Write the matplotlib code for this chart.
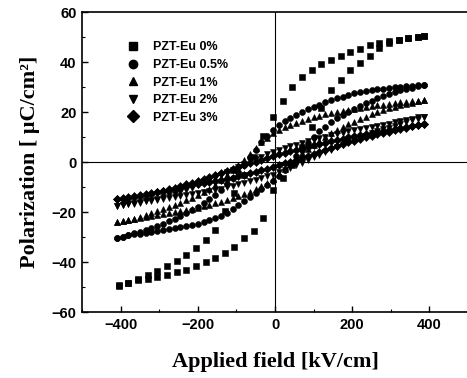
import matplotlib
matplotlib.use("Agg")
import matplotlib.pyplot as plt
from matplotlib.lines import Line2D
from matplotlib.ticker import MultipleLocator

labels = ["PZT-Eu 0%", "PZT-Eu 0.5%", "PZT-Eu 1%", "PZT-Eu 2%", "PZT-Eu 3%"]
markers = ["s", "o", "^", "v", "D"]

# ---- PZT-Eu 0% (coarser sampling in the figure) ----
E_sq = [-405, -380, -355, -330, -305, -280, -255, -230, -205, -180, -155, -130, -105,
        -80, -55, -30, -5, 20, 45, 70, 95, 120, 145, 170, 195, 220, 245, 270, 295,
        320, 345, 370, 385]
# descending-field branch, values in ascending-E order
p0_dn = [-49.3, -48.2, -46.8, -45.3, -43.5, -41.6, -39.5, -37.2, -34.5, -31.2, -27.3,
         -19.5, -12.5, -5, 2, 10.5, 18, 24.5, 30, 34, 36.8, 39.2, 40.8, 42.5, 44, 45.2,
         46.7, 47.6, 48.3, 49, 49.5, 50, 50.4]
# ascending-field branch
p0_up = [-49.5, -48.2, -47, -46.8, -46, -45, -44, -43, -41.5, -40, -38.5, -36.5, -34, -30.5,
         -27.5, -22.5, -11, -6.5, -1, 6, 14, 21.5, 28.8, 33, 37, 39.5, 42.5, 45.5, 47.5,
         48.7, 49.5, 50, 50.4]

# ---- doped samples (denser sampling) ----
E_fine = [-410, -395, -380, -365, -350, -335, -320, -305, -290,
          -275, -260, -245, -230, -215, -200, -185, -170, -155,
          -140, -125, -110, -95, -80, -65, -50, -35, -20,
          -5, 10, 25, 40, 55, 70, 85, 100, 115,
          130, 145, 160, 175, 190, 205, 220, 235, 250,
          265, 280, 295, 310, 325, 340, 355, 370, 385]

p05_dn = [-30.4, -29.8, -29.2, -28.5, -27.8, -27.1, -26.3, -25.5, -24.6,
          -23.7, -22.8, -21.7, -20.5, -19.3, -18, -16.5, -14.9, -13,
          -11, -8.8, -6.4, -3.8, -1, 2, 5, 8, 10.6,
          13, 14.8, 16.3, 17.6, 18.9, 20, 21.1, 22.1, 23,
          23.9, 24.7, 25.5, 26.2, 26.9, 27.5, 28, 28.4, 28.8,
          29.1, 29.4, 29.7, 29.9, 30.1, 30.3, 30.5, 30.7, 30.8]
p05_up = [-30.4, -29.8, -29.3, -28.9, -28.6, -28.3, -27.9, -27.4, -27.1,
          -26.8, -26.5, -26.1, -25.7, -25.2, -24.7, -24, -23.3, -22.3,
          -21.4, -20.4, -18.8, -17.3, -15.7, -14.1, -12.5, -10.8, -9.2,
          -7.5, -5.4, -3.2, -0.4, 2.3, 5, 7.7, 10.2, 12.3,
          14.2, 16, 17.5, 18.9, 20.1, 21.3, 22.5, 23.6, 24.6,
          25.5, 26.4, 27.2, 28, 28.7, 29.3, 29.8, 30.4, 30.8]

p1_dn = [-24.1, -23.7, -23.2, -22.6, -22, -21.3, -20.5, -19.7, -18.9,
         -18, -17.1, -16.2, -15.3, -14.2, -13.1, -11.9, -10.6, -9,
         -7.2, -5.3, -3.2, -1.1, 1, 3.4, 5.7, 7.9, 9.8,
         11.5, 12.8, 13.9, 14.9, 15.8, 16.6, 17.3, 18, 18.6,
         19.1, 19.6, 20, 20.4, 20.8, 21.2, 21.6, 22, 22.3,
         22.7, 23, 23.3, 23.6, 23.9, 24.1, 24.4, 24.6, 24.8]
p1_up = [-24.1, -23.7, -23.2, -22.7, -22.3, -21.9, -21.5, -21.2, -20.8,
         -20.4, -20, -19.6, -19.2, -18.8, -18.3, -17.7, -17.1, -16.5,
         -15.8, -15.1, -14.3, -13.5, -12.8, -11.9, -10.8, -9.6, -8.3,
         -6.8, -4.8, -2.8, -0.7, 1.4, 3.5, 5.3, 7, 8.5,
         10, 11.5, 12.7, 13.9, 15.1, 16.2, 17.3, 18.2, 19.1,
         19.9, 20.7, 21.5, 22.2, 22.8, 23.3, 23.8, 24.3, 24.8]

p2_dn = [-17.5, -17.2, -16.9, -16.6, -16.2, -15.7, -15.1, -14.6, -14,
         -13.3, -12.6, -11.8, -11, -10.2, -9.3, -8.3, -7.3, -6.3,
         -5.2, -4.1, -3, -1.9, -0.8, 0.3, 1.3, 2.2, 3.1,
         4, 4.8, 5.5, 6.3, 7, 7.6, 8.3, 8.9, 9.5,
         10.1, 10.7, 11.3, 11.8, 12.4, 12.9, 13.3, 13.8, 14.2,
         14.6, 15, 15.4, 15.9, 16.4, 16.9, 17.4, 17.9, 18.1]
p2_up = [-17.5, -17.2, -16.8, -16.4, -16.1, -15.7, -15.4, -15.1, -14.8,
         -14.4, -14, -13.6, -13.2, -12.8, -12.4, -11.9, -11.5, -11,
         -10.6, -10.1, -9.5, -8.9, -8.3, -7.7, -7.1, -6.4, -5.7,
         -5, -4.1, -3.2, -2.3, -1.3, -0.3, 0.8, 1.9, 2.9,
         4, 5, 6, 7, 8, 8.9, 9.8, 10.6, 11.5,
         12.3, 13.1, 13.8, 14.5, 15.2, 16, 16.7, 17.4, 18]

p3_dn = [-14.9, -14.6, -14.3, -14, -13.6, -13.1, -12.6, -12, -11.4,
         -10.8, -10.2, -9.6, -8.9, -8.2, -7.5, -6.8, -6, -5.2,
         -4.4, -3.6, -2.8, -2.1, -1.3, -0.5, 0.2, 1, 1.8,
         2.5, 3.1, 3.7, 4.3, 4.9, 5.5, 6.1, 6.7, 7.2,
         7.8, 8.3, 8.9, 9.4, 9.9, 10.4, 10.8, 11.2, 11.6,
         12.1, 12.5, 12.9, 13.3, 13.7, 14.1, 14.5, 15, 15.3]
p3_up = [-14.9, -14.5, -14, -13.6, -13.2, -12.8, -12.4, -12, -11.6,
         -11.2, -10.7, -10.2, -9.7, -9.3, -8.9, -8.4, -8, -7.6,
         -7.2, -6.8, -6.2, -5.6, -5, -4.4, -3.8, -3.2, -2.6,
         -2, -1.3, -0.5, 0.2, 1, 1.8, 2.6, 3.4, 4.2,
         5, 5.8, 6.5, 7.2, 8, 8.6, 9.3, 9.9, 10.5,
         11.1, 11.7, 12.2, 12.8, 13.3, 13.8, 14.3, 14.8, 15.3]

series = [
    (E_sq, p0_dn, p0_up),
    (E_fine, p05_dn, p05_up),
    (E_fine, p1_dn, p1_up),
    (E_fine, p2_dn, p2_up),
    (E_fine, p3_dn, p3_up),
]

fig = plt.figure(figsize=(4.67, 3.78), dpi=100)
ax = fig.add_axes([82 / 467, 66 / 378, 386 / 467, 300 / 378])

ax.axhline(0, color="black", lw=0.8, zorder=1)
ax.axvline(0, color="black", lw=0.8, zorder=1)

msizes = [4.3, 4.3, 4.6, 4.6, 4.3]
for mk, (E, pdn, pup), ms in zip(markers, series, msizes):
    ax.plot(E + E, pdn + pup, linestyle="none", marker=mk, color="black",
            markersize=ms, markeredgewidth=0.4, zorder=3)

ax.set_xlim(-500, 500)
ax.set_ylim(-60, 60)
ax.xaxis.set_major_locator(MultipleLocator(200))
ax.xaxis.set_minor_locator(MultipleLocator(100))
ax.yaxis.set_major_locator(MultipleLocator(20))
ax.yaxis.set_minor_locator(MultipleLocator(10))
ax.tick_params(which="both", direction="in", top=False, right=False)
ax.tick_params(which="major", length=4, width=1, pad=4)
ax.tick_params(which="minor", length=2, width=0.8)
for s in ax.spines.values():
    s.set_linewidth(1.2)

for t in ax.get_xticklabels() + ax.get_yticklabels():
    t.set_fontfamily("Liberation Sans")
    t.set_fontweight("bold")
    t.set_fontsize(10.5)

ax.set_xlabel("Applied field [kV/cm]", family="Liberation Serif", fontweight="bold",
              fontsize=16, labelpad=15)
ax.set_ylabel("Polarization [ μC/cm²]", family="Liberation Serif", fontweight="bold",
              fontsize=16, labelpad=8)

handles = [Line2D([], [], linestyle="none", marker=mk, color="black", markersize=6)
           for mk in markers]
ax.legend(handles, labels, loc="upper left", bbox_to_anchor=(0.07, 0.94),
          frameon=False, handletextpad=0.6, labelspacing=0.45,
          prop={"family": "Liberation Sans", "weight": "bold", "size": 9})

fig.savefig("out.png", dpi=100)
